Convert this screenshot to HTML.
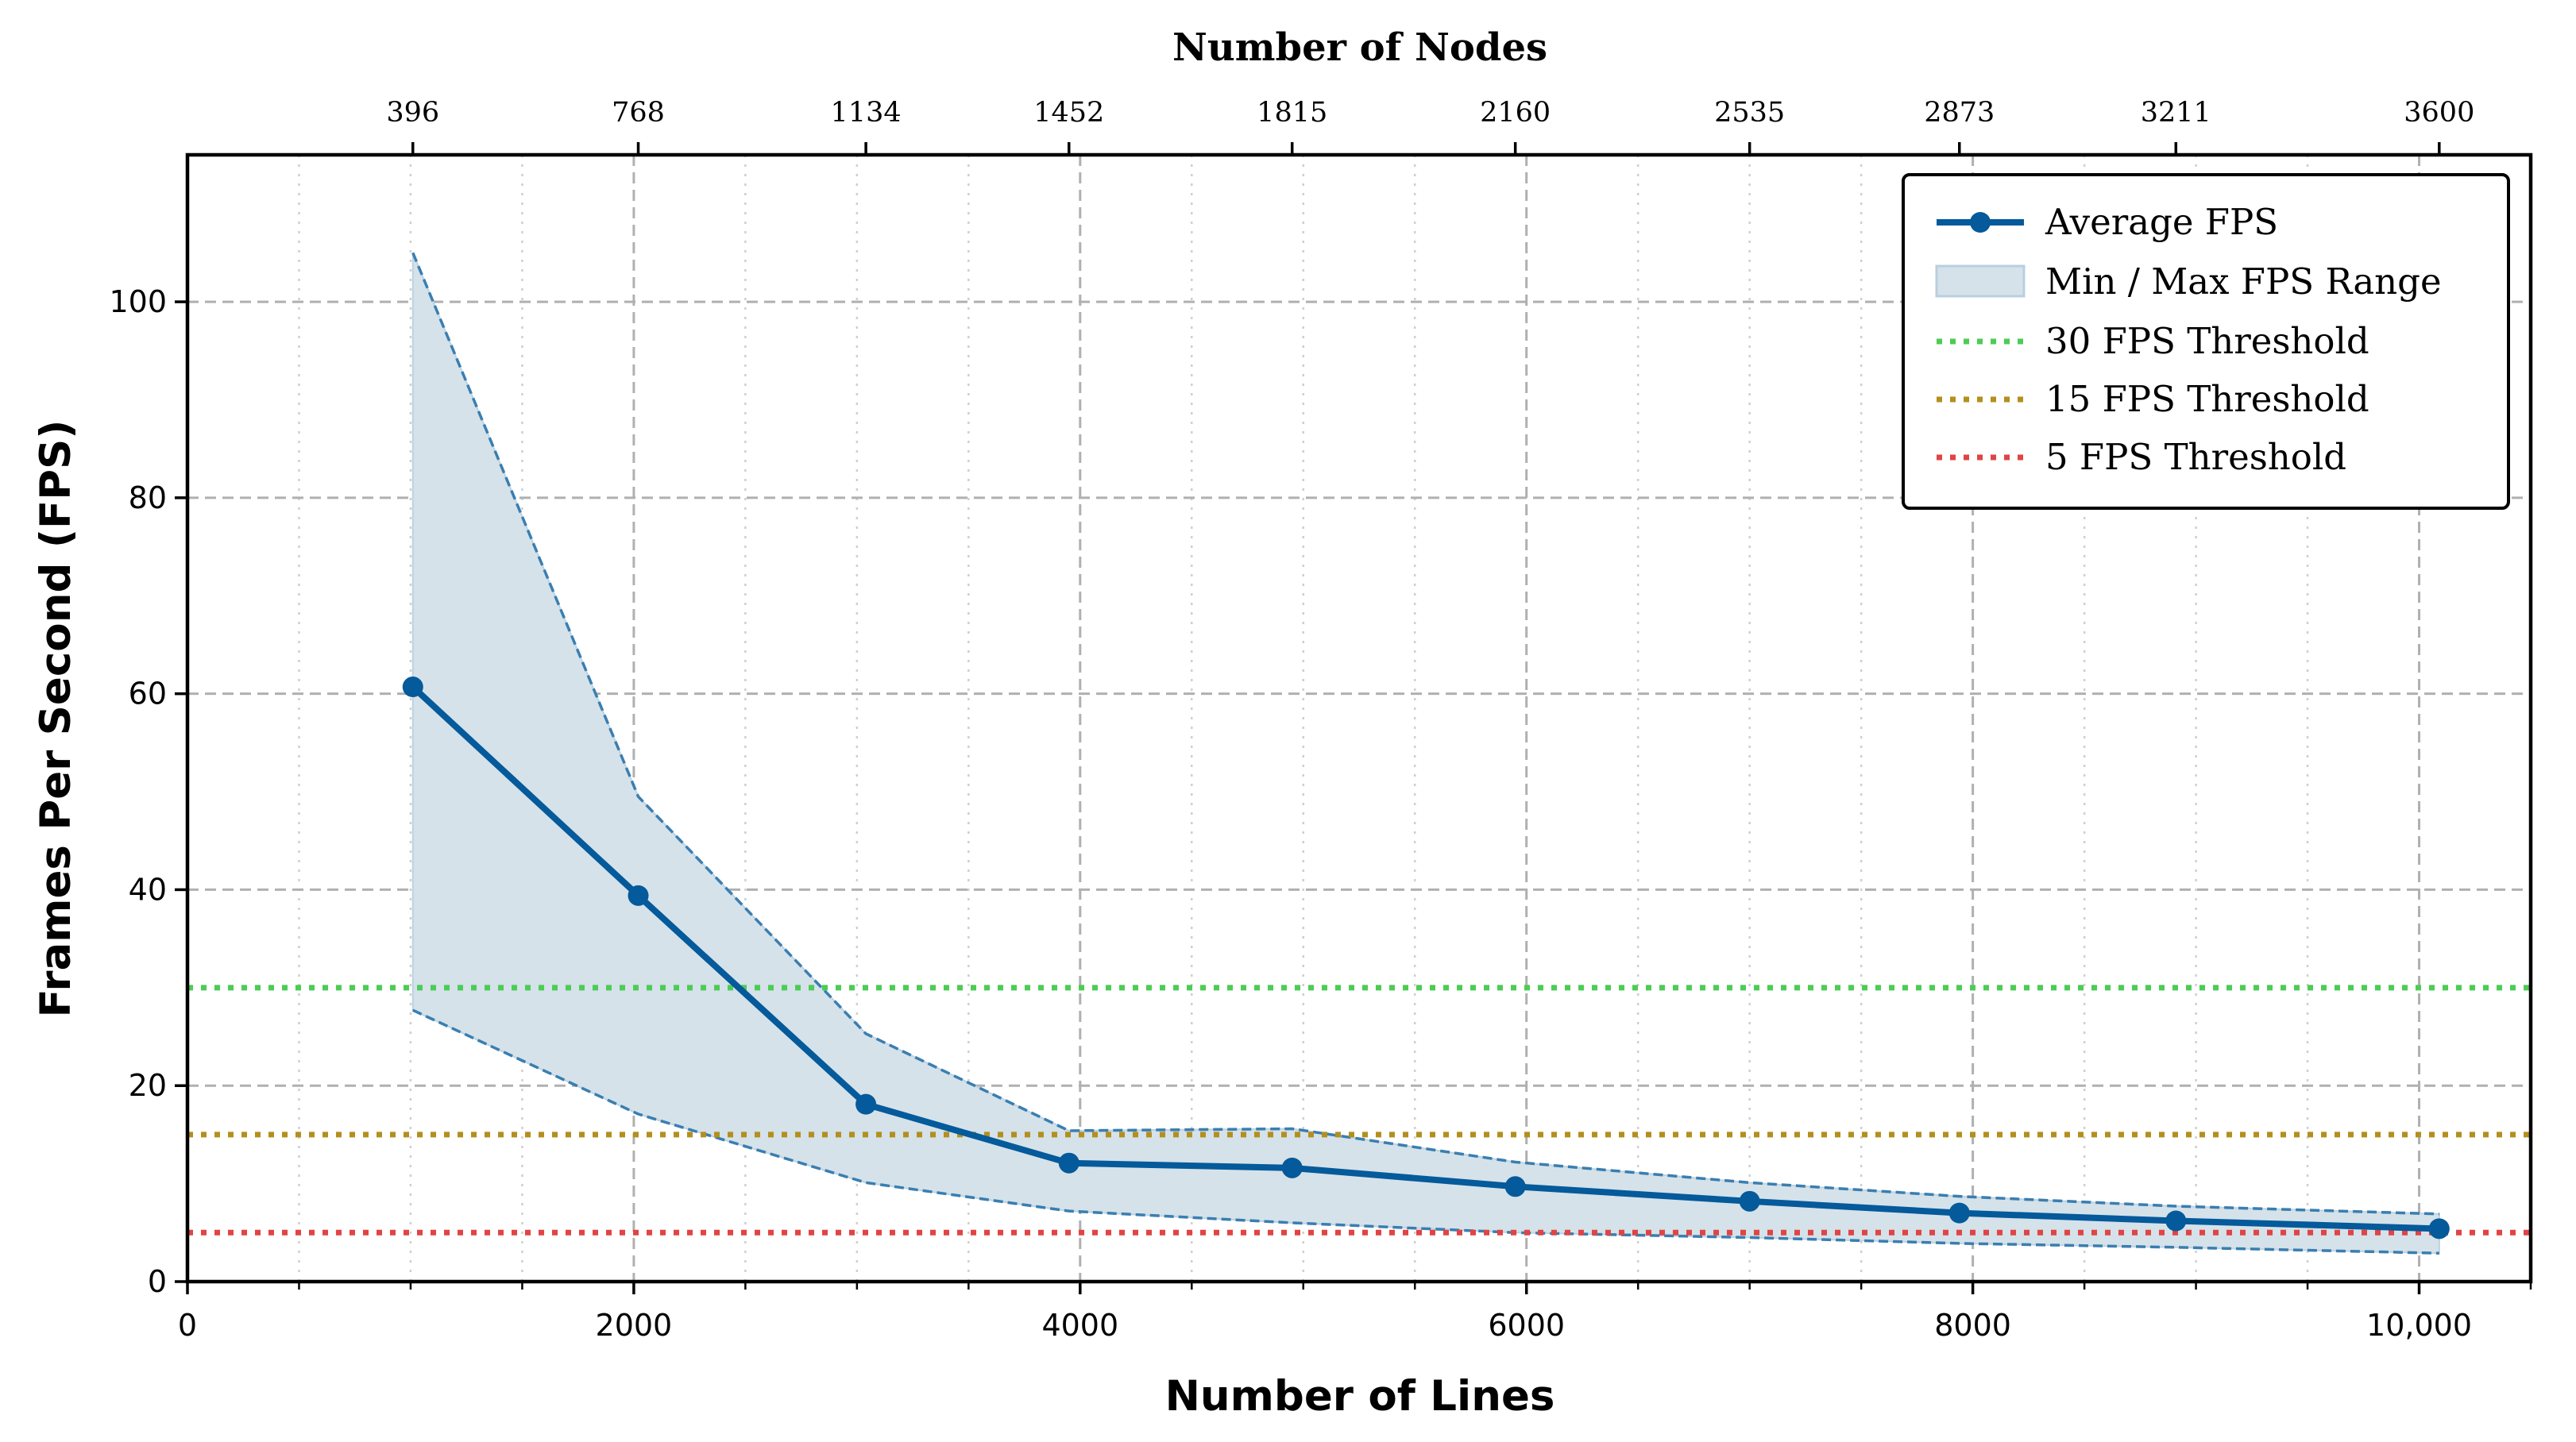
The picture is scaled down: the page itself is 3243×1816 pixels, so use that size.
<!DOCTYPE html>
<html><head><meta charset="utf-8"><style>
html,body{margin:0;padding:0;background:#fff;}
svg{display:block;}
</style></head><body>
<svg id="chart" width="3243" height="1816" viewBox="0 0 3243 1816" xmlns="http://www.w3.org/2000/svg">
<rect width="3243" height="1816" fill="#fff"/>
<g id="grid"></g>
<g id="band"></g>
<g id="thresh"></g>
<g id="series"></g>
<g id="axes"></g>
<text x="1712" y="76" text-anchor="middle" font-family="DejaVu Serif, serif" font-weight="bold" font-size="48">Number of Nodes</text>
<text x="1712" y="1776" text-anchor="middle" font-family="DejaVu Sans, Liberation Sans, sans-serif" font-weight="bold" font-size="53">Number of Lines</text>
<text transform="translate(88,905) rotate(-90)" text-anchor="middle" font-family="DejaVu Sans, Liberation Sans, sans-serif" font-weight="bold" font-size="53">Frames Per Second (FPS)</text>
<g id="legend">
<rect x="2396" y="220" width="762" height="420" rx="8" fill="#fff" stroke="#000" stroke-width="4"/>
<g>
<line x1="2438" y1="280" x2="2548" y2="280" stroke="#045a9a" stroke-width="8"/><circle cx="2493" cy="280" r="13" fill="#045a9a"/>
<text x="2575" y="295" font-family="DejaVu Serif, serif" font-size="45">Average FPS</text></g>
<g>
<rect x="2438" y="335" width="110" height="38" fill="#d5e2ea" stroke="#b8cfe0" stroke-width="3"/>
<text x="2575" y="370" font-family="DejaVu Serif, serif" font-size="45">Min / Max FPS Range</text></g>
<g>
<line x1="2438" y1="430" x2="2548" y2="430" stroke="#4ccc55" stroke-width="7" stroke-dasharray="7,10"/>
<text x="2575" y="445" font-family="DejaVu Serif, serif" font-size="45">30 FPS Threshold</text></g>
<g>
<line x1="2438" y1="503" x2="2548" y2="503" stroke="#b38f1f" stroke-width="7" stroke-dasharray="7,10"/>
<text x="2575" y="518" font-family="DejaVu Serif, serif" font-size="45">15 FPS Threshold</text></g>
<g>
<line x1="2438" y1="576" x2="2548" y2="576" stroke="#e04444" stroke-width="7" stroke-dasharray="7,10"/>
<text x="2575" y="591" font-family="DejaVu Serif, serif" font-size="45">5 FPS Threshold</text></g>
</g>
</svg>
<script>
const lines = [1010, 2020, 3040, 3950, 4950, 5950, 7000, 7940, 8910, 10090];
const nodes = [396, 768, 1134, 1452, 1815, 2160, 2535, 2873, 3211, 3600];
const avgFps = [60.7, 39.4, 18.1, 12.1, 11.6, 9.7, 8.2, 7.0, 6.2, 5.4];
const maxFps = [105, 49.5, 25.3, 15.4, 15.6, 12.2, 10.1, 8.7, 7.7, 6.9];
const minFps = [27.7, 17.1, 10.1, 7.2, 6.0, 5.0, 4.5, 3.9, 3.5, 2.9];
const thresholds = [30, 15, 5];
const thresholdColors = ['#4ccc55', '#b38f1f', '#e04444'];
const xTicks = [0, 2000, 4000, 6000, 8000, 10000];
const xTickLabels = ['0', '2000', '4000', '6000', '8000', '10,000'];
const yTicks = [0, 20, 40, 60, 80, 100];

const L = 236, R = 3186, T = 195, B = 1614;
const X0 = 0, X1 = 10500, Y0 = 0, Y1 = 115;
const sx = v => L + (v - X0) / (X1 - X0) * (R - L);
const sy = v => B - (v - Y0) / (Y1 - Y0) * (B - T);
const NS = 'http://www.w3.org/2000/svg';
function mk(parent, tag, attrs, text) {
  const e = document.createElementNS(NS, tag);
  for (const k in attrs) e.setAttribute(k, attrs[k]);
  if (text !== undefined) e.textContent = text;
  parent.appendChild(e);
  return e;
}
const grid = document.getElementById('grid');
for (let v = 500; v < X1; v += 500) {
  const major = v % 2000 === 0;
  const g = mk(grid, 'line', {x1: sx(v), x2: sx(v), y1: T, y2: B, stroke: major ? '#b0b0b0' : '#cfcfcf', 'stroke-width': major ? 3 : 2.5, 'stroke-dasharray': major ? '14,8' : '3,9'});
  
  
}
yTicks.forEach(v => {
  if (v === 0) return;
  const g = mk(grid, 'line', {x1: L, x2: R, y1: sy(v), y2: sy(v), stroke: '#b0b0b0', 'stroke-width': 3, 'stroke-dasharray': '14,8'});
  
  
});
const band = document.getElementById('band');
let d = '';
lines.forEach((x, i) => { d += (i ? 'L' : 'M') + sx(x) + ',' + sy(maxFps[i]); });
for (let i = lines.length - 1; i >= 0; i--) d += 'L' + sx(lines[i]) + ',' + sy(minFps[i]);
const area = mk(band, 'path', {d: d + 'Z', fill: '#d5e2ea', stroke: '#bcd2e2', 'stroke-width': 2});


[maxFps, minFps].forEach((arr, j) => {
  const p = mk(band, 'polyline', {points: lines.map((x, i) => sx(x) + ',' + sy(arr[i])).join(' '), fill: 'none', stroke: '#3a7eb0', 'stroke-width': 3.5, 'stroke-dasharray': '12,6'});
  
  
});
const th = document.getElementById('thresh');
thresholds.forEach((v, i) => {
  const l = mk(th, 'line', {x1: L, x2: R, y1: sy(v), y2: sy(v), stroke: thresholdColors[i], 'stroke-width': 7, 'stroke-dasharray': '7,10'});
  
  
});
const ser = document.getElementById('series');
const pl = mk(ser, 'polyline', {points: lines.map((x, i) => sx(x) + ',' + sy(avgFps[i])).join(' '), fill: 'none', stroke: '#045a9a', 'stroke-width': 8, 'stroke-linejoin': 'round'});


lines.forEach((x, i) => {
  const c = mk(ser, 'circle', {cx: sx(x), cy: sy(avgFps[i]), r: 13, fill: '#045a9a'});
  
  
});
const ax = document.getElementById('axes');
const frame = mk(ax, 'rect', {x: L, y: T, width: R - L, height: B - T, fill: 'none', stroke: '#000', 'stroke-width': 4.5});


for (let v = 0; v <= X1; v += 500) {
  const major = v % 2000 === 0;
  const t = mk(ax, 'line', {x1: sx(v), x2: sx(v), y1: B, y2: B + (major ? 16 : 10), stroke: '#000', 'stroke-width': major ? 3.5 : 2.5});
  
  
}
xTicks.forEach((v, i) => {
  const t = mk(ax, 'text', {x: sx(v), y: 1682, 'text-anchor': 'middle', 'font-family': 'DejaVu Sans, Liberation Sans, sans-serif', 'font-size': 38}, xTickLabels[i]);
  
  
});
yTicks.forEach(v => {
  const t = mk(ax, 'line', {x1: L - 16, x2: L, y1: sy(v), y2: sy(v), stroke: '#000', 'stroke-width': 3.5});
  
  
  const l = mk(ax, 'text', {x: L - 26, y: sy(v) + 13, 'text-anchor': 'end', 'font-family': 'DejaVu Sans, Liberation Sans, sans-serif', 'font-size': 38}, String(v));
  
  
});
nodes.forEach((n, i) => {
  const t = mk(ax, 'line', {x1: sx(lines[i]), x2: sx(lines[i]), y1: T - 16, y2: T, stroke: '#000', 'stroke-width': 3.5});
  
  
  const l = mk(ax, 'text', {x: sx(lines[i]), y: 153, 'text-anchor': 'middle', 'font-family': 'DejaVu Serif, serif', 'font-size': 35}, String(n));
  
  
});
</script>
</body></html>
